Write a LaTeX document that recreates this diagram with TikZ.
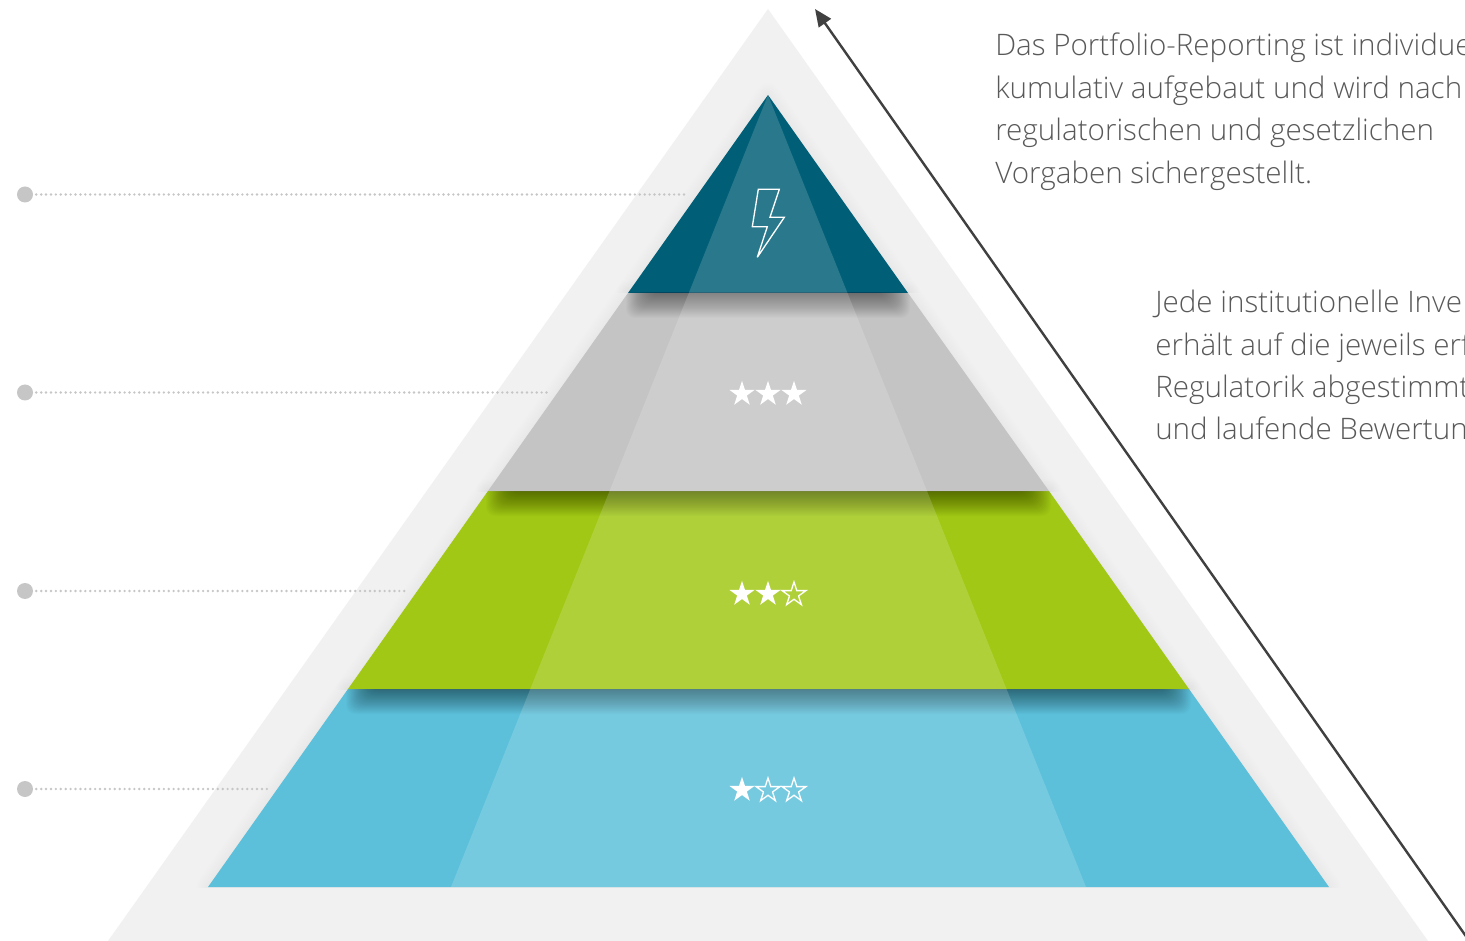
\documentclass[tikz,border=0pt]{standalone}
\usepackage{fontspec}
\setmainfont{Open Sans Light}
\usetikzlibrary{shapes.geometric,arrows.meta}
\definecolor{outerc}{HTML}{F1F1F1}
\definecolor{tealc}{HTML}{005F77}
\definecolor{greyc}{HTML}{C4C4C4}
\definecolor{greenc}{HTML}{A1C814}
\definecolor{bluec}{HTML}{5CC0DB}
\definecolor{textc}{HTML}{595959}
\definecolor{arrowc}{HTML}{404040}
\definecolor{dotc}{HTML}{C6C6C6}
\tikzset{
  fullstar/.style={star,star points=5,star point ratio=2.618,minimum size=26.5*0.75pt,inner sep=0pt,fill=white,draw=none},
  openstar/.style={star,star points=5,star point ratio=2.618,minimum size=25*0.75pt,inner sep=0pt,draw=white,line width=1pt,fill=none},
  bullet/.style={circle,fill=dotc,minimum size=16*0.75pt,inner sep=0pt},
  leader/.style={dotc,line width=2pt,line cap=round,dash pattern=on 0pt off 3.68pt},
  bodytext/.style={anchor=north west,inner sep=0pt,align=left,text=textc,font=\fontsize{22.2pt}{31.8pt}\selectfont},
}
% #1 left x, #2 right x, #3 base y of upper layer, #4 lower layer polygon
\newcommand{\bandshadow}[4]{%
  \begin{scope}
    \clip #4;
    \foreach \d in {-12,...,12}{
      \fill[black,opacity=0.021,rounded corners=7pt]
        ({#1+10-\d},{#3-24}) rectangle ({#2-10+\d},{#3+13+\d});
    }
  \end{scope}}
% soft glow on the sides of a layer
\newcommand{\sideglow}[2]{%
  \begin{scope}
    \clip (0,0) rectangle (1465,#2);
    \foreach \w in {3,6,...,24}{
      \draw[black,opacity=0.004,line width=\w*0.75pt,line join=round] #1;
    }
  \end{scope}}
\begin{document}
\begin{tikzpicture}[x=0.75pt,y=-0.75pt]
\clip (0,0) rectangle (1465,941);
\useasboundingbox (0,0) rectangle (1465,941);
\fill[white] (0,0) rectangle (1465,941);
% outer triangle
\fill[outerc] (768,9) -- (1428,941) -- (108,941) -- cycle;
% layers
\def\pblue{(348,689) -- (1189,689) -- (1329,887) -- (208,887) -- cycle}
\def\pgreen{(488,491) -- (1049,491) -- (1189,689) -- (348,689) -- cycle}
\def\pgrey{(628,293) -- (908,293) -- (1049,491) -- (488,491) -- cycle}
\def\pteal{(768,95) -- (908,293) -- (628,293) -- cycle}
\sideglow{\pblue}{887}
\sideglow{\pgreen}{689}
\sideglow{\pgrey}{491}
\sideglow{\pteal}{293}
\fill[bluec] \pblue;
\fill[greenc] \pgreen;
\fill[greyc] \pgrey;
\fill[tealc] \pteal;
% shadows under the upper layers
\bandshadow{628}{908}{293}{\pgrey}
\bandshadow{488}{1049}{491}{\pgreen}
\bandshadow{348}{1189}{689}{\pblue}
% light overlay
\fill[white,opacity=0.16] (768,95) -- (1086,887) -- (451,887) -- cycle;
% bolt
\draw[white,line width=1pt,line join=miter,miter limit=3] (758.3,189.3) -- (779.3,189.3) -- (770,217.3) -- (784.3,217.3) -- (757.3,257.3) -- (767.3,226.7) -- (752.3,226.7) -- cycle;
% stars
\node[fullstar] (s31) at (742,394) {};
\node[fullstar] (s32) at (768,394) {};
\node[fullstar] (s33) at (794,394) {};
\node[fullstar] (s21) at (742,594) {};
\node[fullstar] (s22) at (768,594) {};
\node[openstar] (s23) at (794,594.5) {};
\node[fullstar] (s11) at (742,790) {};
\node[openstar] (s12) at (768,790.5) {};
\node[openstar] (s13) at (794,790.5) {};
% leaders
\node[bullet] (d1) at (25,194.5) {};
\node[bullet] (d2) at (25,392.5) {};
\node[bullet] (d3) at (25,591) {};
\node[bullet] (d4) at (25,789) {};
\coordinate (e1) at (688,194.5);
\coordinate (e2) at (549,392.5);
\coordinate (e3) at (405,591);
\coordinate (e4) at (267,789);
\draw[leader] (d1.east) ++(3,0) -- (e1);
\draw[leader] (d2.east) ++(3,0) -- (e2);
\draw[leader] (d3.east) ++(3,0) -- (e3);
\draw[leader] (d4.east) ++(3,0) -- (e4);
% arrow
\coordinate (astart) at (1470,942);
\coordinate (atip) at (815,9);
\draw[arrowc,line width=1.8pt,-{Triangle[length=13pt,width=11pt]}] (astart) -- (atip);
% texts
\node[bodytext] (t1) at (995,33) {Das Portfolio-Reporting ist individue\\kumulativ aufgebaut und wird nach\\regulatorischen und gesetzlichen\\Vorgaben sichergestellt.};
\node[bodytext] (t2) at (1155,290) {Jede institutionelle Inve\\erhält auf die jeweils erf\\Regulatorik abgestimmt\\und laufende Bewertun};
\end{tikzpicture}
\end{document}
